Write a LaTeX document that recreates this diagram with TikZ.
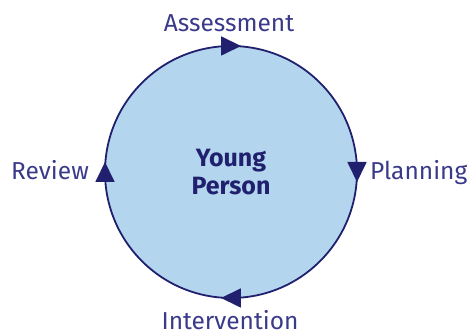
\documentclass[tikz,border=0pt]{standalone}
\usepackage{fontspec}
\setmainfont{Fira Sans}
\usetikzlibrary{decorations.markings,arrows.meta}
\definecolor{navy}{HTML}{20206E}
\definecolor{labelc}{HTML}{3A3A8A}
\definecolor{fillb}{HTML}{B3D5EE}
\begin{document}
\begin{tikzpicture}[x=1pt,y=1pt,
  lbl/.style={text=labelc,font=\fontsize{24.5}{26}\selectfont,inner sep=0pt},
  ring/.style={draw=navy,line width=1.8pt,
    postaction={decorate},
    decoration={markings,
      mark=at position 0.125 with {\arrow[xshift=10pt,navy]{Triangle[length=20pt,width=19pt]}},
      mark=at position 0.375 with {\arrow[xshift=10pt,navy]{Triangle[length=20pt,width=19pt]}},
      mark=at position 0.625 with {\arrow[xshift=10pt,navy]{Triangle[length=20pt,width=19pt]}},
      mark=at position 0.875 with {\arrow[xshift=10pt,navy]{Triangle[length=20pt,width=19pt]}}}}]
\useasboundingbox (0,0) rectangle (467,336);
\node[circle,fill=fillb,minimum size=252pt,inner sep=0pt,text=navy,align=center,
  font=\bfseries\fontsize{25}{28}\selectfont] (yp) at (231,164) {Young\\Person};
\draw[ring] ([shift={(45:126)}]yp.center) arc[start angle=45,end angle=-315,radius=126];
\node[lbl,anchor=base] (as) at (229,304) {Assessment};
\node[lbl,anchor=base west] (pl) at (370,156) {Planning};
\node[lbl,anchor=base east] (rv) at (89,156) {Review};
\node[lbl,anchor=base] (iv) at (230,6) {Intervention};
\end{tikzpicture}
\end{document}
